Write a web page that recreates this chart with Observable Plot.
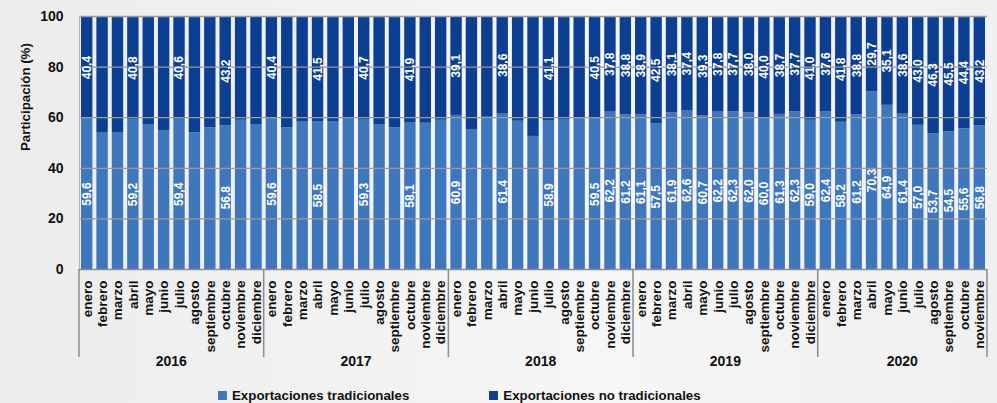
<!DOCTYPE html>
<html>
<head>
<meta charset="utf-8">
<script src="https://cdn.jsdelivr.net/npm/d3@7"></script>
<script src="https://cdn.jsdelivr.net/npm/@observablehq/plot@0.6"></script>
<style>
  html, body { margin: 0; padding: 0; }
  body { width: 997px; height: 403px; overflow: hidden; background: linear-gradient(90deg, #ececec, #f6f6f6 60%, #f0f0f0); font-family: "Liberation Sans", Arial, sans-serif; }
  #chart svg { display: block; }
  .legend { display: flex; align-items: center; height: 28px; margin-top: 6px; padding-left: 218px; font-weight: bold; font-size: 13.3px; color: #111; }
  .legend .item { display: flex; align-items: center; }
  .legend .sw { width: 9px; height: 9px; margin-right: 5px; }
</style>
</head>
<body>
<div id="chart"></div>
<div class="legend" id="legend"></div>
<script>
const years = [2016, 2017, 2018, 2019, 2020];
const months = ["enero","febrero","marzo","abril","mayo","junio","julio","agosto","septiembre","octubre","noviembre","diciembre"];
const monthsPerYear = [12, 12, 12, 12, 11];
const series = ["Exportaciones tradicionales", "Exportaciones no tradicionales"];
const colors = ["#3f77bd", "#0c3f91"];

const tradicional = [
  59.6, 53.9, 53.9, 59.2, 57.3, 54.9, 59.4, 54.0, 56.0, 56.8, 59.0, 57.3,
  59.6, 56.0, 58.5, 58.5, 58.5, 60.0, 59.3, 57.3, 56.0, 58.1, 57.8, 59.0,
  60.9, 55.3, 60.2, 61.4, 58.6, 52.6, 58.9, 59.3, 59.6, 59.5, 62.2, 61.2,
  61.1, 57.5, 61.9, 62.6, 60.7, 62.2, 62.3, 62.0, 60.0, 61.3, 62.3, 59.0,
  62.4, 58.2, 61.2, 70.3, 64.9, 61.4, 57.0, 53.7, 54.5, 55.6, 56.8
];
const noTradicional = [
  40.4, 46.1, 46.1, 40.8, 42.7, 45.1, 40.6, 46.0, 44.0, 43.2, 41.0, 42.7,
  40.4, 44.0, 41.5, 41.5, 41.5, 40.0, 40.7, 42.7, 44.0, 41.9, 42.2, 41.0,
  39.1, 44.7, 39.8, 38.6, 41.4, 47.4, 41.1, 40.7, 40.4, 40.5, 37.8, 38.8,
  38.9, 42.5, 38.1, 37.4, 39.3, 37.8, 37.7, 38.0, 40.0, 38.7, 37.7, 41.0,
  37.6, 41.8, 38.8, 29.7, 35.1, 38.6, 43.0, 46.3, 45.5, 44.4, 43.2
];
const mostrar = [
  1,0,0,1,0,0,1,0,0,1,0,0,
  1,0,0,1,0,0,1,0,0,1,0,0,
  1,0,0,1,0,0,1,0,0,1,1,1,
  1,1,1,1,1,1,1,1,1,1,1,1,
  1,1,1,1,1,1,1,1,1,1,1
];
const yTicks = [0, 20, 40, 60, 80, 100];

// build keys
const periods = [];
years.forEach((yr, yi) => {
  for (let m = 0; m < monthsPerYear[yi]; m++) periods.push({key: yr + "|" + months[m], year: yr, month: months[m]});
});
const keys = periods.map(d => d.key);

const rows = [];
periods.forEach((p, i) => rows.push({key: p.key, serie: series[0], valor: tradicional[i]}));
periods.forEach((p, i) => rows.push({key: p.key, serie: series[1], valor: noTradicional[i]}));

const fmt = v => v.toFixed(1).replace(".", ",");
const labels = [];
periods.forEach((p, i) => {
  if (!mostrar[i]) return;
  labels.push({key: p.key, y: tradicional[i] / 2, text: fmt(tradicional[i])});
  labels.push({key: p.key, y: tradicional[i] + noTradicional[i] / 2, text: fmt(noTradicional[i])});
});

const plot = Plot.plot({
  width: 997,
  height: 375,
  marginLeft: 79,
  marginRight: 10,
  marginTop: 16,
  marginBottom: 106,
  style: {background: "transparent", fontFamily: "Liberation Sans, Arial, sans-serif", fontSize: "13px", color: "#111"},
  x: {domain: keys, paddingInner: 0.26, paddingOuter: 0.13, round: false, axis: null},
  y: {domain: [0, 100], axis: null},
  color: {domain: series, range: colors},
  marks: [
    Plot.barY(rows, {x: "key", y: "valor", fill: "serie"}),
    Plot.gridY(yTicks.filter(t => t > 0), {stroke: "#9b9b9b", strokeOpacity: 1, strokeWidth: 1.3}),
    Plot.frame({anchor: "left", stroke: "#b5b5b5", strokeWidth: 1}),
    Plot.ruleY([0], {stroke: "#8c8c8c", strokeWidth: 1.5}),
    Plot.axisY({ticks: yTicks, tickSize: 0, tickPadding: 16, fontWeight: "bold", fontSize: 14, label: null}),
    Plot.axisX({tickFormat: k => k.split("|")[1], tickRotate: -90, tickSize: 0, tickPadding: 11, fontWeight: "bold", fontSize: 13.5, label: null}),
    Plot.text(labels, {x: "key", y: "y", text: "text", rotate: -90, fill: "white", fontSize: 12, fontWeight: 600}),
    Plot.text(["Participación (%)"], {frameAnchor: "left", dx: -54, dy: 8, rotate: -90, fontWeight: "bold", fontSize: 13.3, fill: "#111"})
  ]
});

document.getElementById("chart").appendChild(plot);

// year labels and separators using the plot's own scales
const xs = plot.scale("x");
const ys = plot.scale("y");
const xf = xs.apply ? (k => xs.apply(k)) : d3.scaleBand(xs.domain, xs.range).paddingInner(0.26).paddingOuter(0.13);
const bw = xs.bandwidth;
const gap = xs.step - bw;
const y0 = ys.apply ? ys.apply(0) : 269;
const svg = d3.select(plot);
const g = svg.append("g");
let lines = [];
years.forEach((yr, yi) => {
  const yk = keys.filter(k => k.startsWith(yr + "|"));
  const left = xf(yk[0]) - gap / 2;
  const right = xf(yk[yk.length - 1]) + bw + gap / 2;
  lines.push(left);
  if (yi === years.length - 1) lines.push(right);
  g.append("text")
    .attr("x", (left + right) / 2)
    .attr("y", y0 + 97)
    .attr("text-anchor", "middle")
    .attr("font-weight", "bold")
    .attr("font-size", 14)
    .attr("fill", "#111")
    .text(yr);
});
lines.forEach(x => {
  g.append("line")
    .attr("x1", x).attr("x2", x)
    .attr("y1", y0).attr("y2", y0 + 88)
    .attr("stroke", "#8c8c8c").attr("stroke-width", 1.5);
});

// legend
const leg = d3.select("#legend");
series.forEach((s, i) => {
  const it = leg.append("div").attr("class", "item").style("margin-right", i === 0 ? "80px" : "0");
  it.append("div").attr("class", "sw").style("background", colors[i]);
  it.append("span").text(s);
});
</script>
</body>
</html>
